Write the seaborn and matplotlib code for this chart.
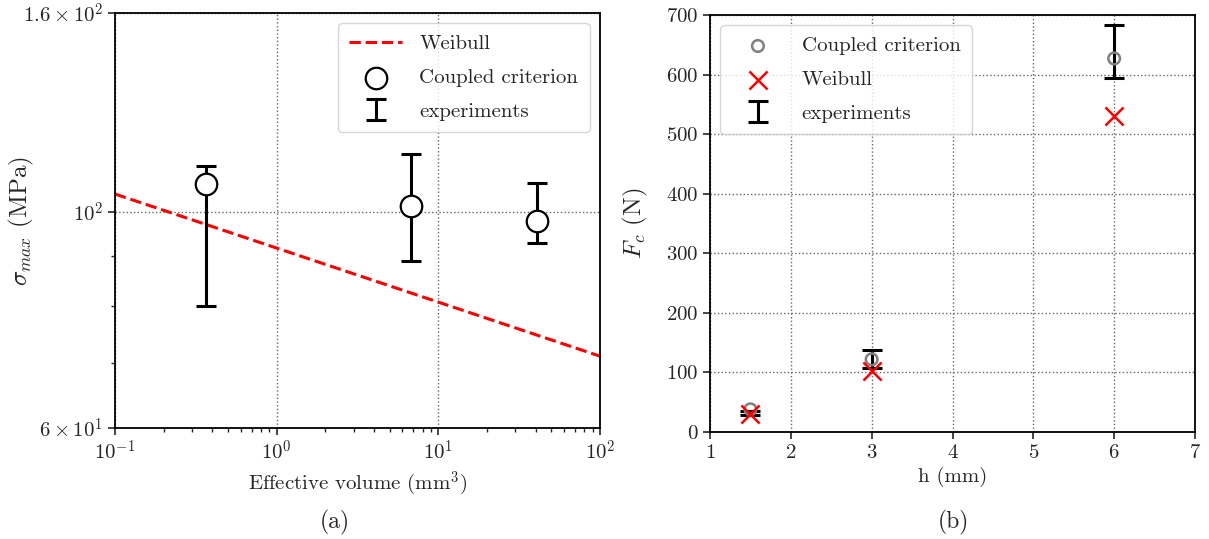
import numpy as np
import pandas as pd
import matplotlib
matplotlib.use("Agg")
import matplotlib.pyplot as plt
import seaborn as sns

# ---------------- data ----------------
# panel (a): strength vs effective volume (log-log)
weibull_v = [0.1, 100.0]
weibull_sigma = [104.3, 71.1]

coupled_v = [0.365, 6.74, 40.6]
coupled_sigma = [106.7, 101.5, 97.9]

exp_v = [0.365, 6.74, 40.6]
exp_sigma_low = [80.1, 89.0, 93.0]
exp_sigma_high = [111.5, 114.7, 107.1]

# panel (b): critical force vs thickness
h_vals = [1.5, 3.0, 6.0]
coupled_F = [38.0, 122.0, 627.0]
weibull_F = [30.0, 103.0, 531.0]
exp_F_low = [28.0, 108.0, 595.0]
exp_F_high = [36.0, 138.0, 684.0]

y_ticks_a = [60, 100, 160]
y_ticklabels_a = [r"$6\times10^{1}$", r"$10^{2}$", r"$1.6\times10^{2}$"]
y_minor_a = [70, 80, 90]
x_ticks_b = [1, 2, 3, 4, 5, 6, 7]
y_ticks_b = [0, 100, 200, 300, 400, 500, 600, 700]

# ---------------- style ----------------
sns.set_style("ticks")
plt.rcParams["font.family"] = ["cmr10", "DejaVu Serif"]
plt.rcParams["mathtext.fontset"] = "cm"
plt.rcParams["axes.formatter.use_mathtext"] = True
plt.rcParams["axes.unicode_minus"] = False
FS = 15

fig = plt.figure(figsize=(12.09, 5.39), dpi=100)
axA = fig.add_axes([115 / 1209, 1 - 428 / 539, 485 / 1209, 415 / 539])
axB = fig.add_axes([710 / 1209, 1 - 432 / 539, 485 / 1209, 417 / 539])

legend_kw = dict(fontsize=FS, frameon=True, fancybox=True, edgecolor="0.8",
                 handlelength=2.5, borderpad=0.55, labelspacing=0.72,
                 handletextpad=0.85)

# ---------------- panel (a) ----------------
dfw = pd.DataFrame({"v": weibull_v, "s": weibull_sigma})
sns.lineplot(data=dfw, x="v", y="s", ax=axA, color="red", linestyle="--",
             linewidth=2.2, label="Weibull")
dfc = pd.DataFrame({"v": coupled_v, "s": coupled_sigma})
sns.scatterplot(data=dfc, x="v", y="s", ax=axA, marker="o", s=240,
                facecolor="white", edgecolor="black", linewidth=1.6,
                label="Coupled criterion", zorder=5)
mid = (np.array(exp_sigma_low) + np.array(exp_sigma_high)) / 2
axA.errorbar(exp_v, mid,
             yerr=[mid - np.array(exp_sigma_low), np.array(exp_sigma_high) - mid],
             fmt="none", ecolor="black", elinewidth=2.2, capsize=7, capthick=2.2,
             label="experiments", zorder=4)
axA.set_xscale("log")
axA.set_yscale("log")
axA.set_xlim(0.1, 100)
axA.set_ylim(60, 160)
axA.set_yticks(y_ticks_a)
axA.set_yticklabels(y_ticklabels_a)
axA.set_yticks(y_minor_a, minor=True)
axA.yaxis.set_minor_formatter(matplotlib.ticker.NullFormatter())
axA.set_xticks([0.1, 1, 10, 100])
axA.set_xticklabels([r"$10^{-1}$", r"$10^{0}$", r"$10^{1}$", r"$10^{2}$"])
axA.grid(True, which="major", linestyle=":", color="0.4", linewidth=1.0)
axA.set_xlabel(r"Effective volume (mm$^3$)", fontsize=FS)
axA.set_ylabel(r"$\sigma_{max}$ (MPa)", fontsize=FS + 3)
axA.yaxis.set_label_coords(-0.163, 0.5)
axA.tick_params(axis="both", which="major", labelsize=FS, length=5, width=1.2)
axA.tick_params(axis="both", which="minor", length=3, width=1.0)
hA, lA = axA.get_legend_handles_labels()
axA.legend(hA, lA, loc="upper right", **legend_kw)

# ---------------- panel (b) ----------------
dfcb = pd.DataFrame({"h": h_vals, "F": coupled_F})
sns.scatterplot(data=dfcb, x="h", y="F", ax=axB, marker="o", s=70,
                facecolor="none", edgecolor="gray", linewidth=1.8,
                label="Coupled criterion", zorder=5)
dfwb = pd.DataFrame({"h": h_vals, "F": weibull_F})
sns.scatterplot(data=dfwb, x="h", y="F", ax=axB, marker="x", s=170,
                color="red", linewidth=1.8, label="Weibull", zorder=6)
midb = (np.array(exp_F_low) + np.array(exp_F_high)) / 2
axB.errorbar(h_vals, midb,
             yerr=[midb - np.array(exp_F_low), np.array(exp_F_high) - midb],
             fmt="none", ecolor="black", elinewidth=2.2, capsize=7, capthick=2.2,
             label="experiments", zorder=4)
axB.set_xlim(1, 7)
axB.set_ylim(0, 700)
axB.set_xticks(x_ticks_b)
axB.set_yticks(y_ticks_b)
axB.grid(True, which="major", linestyle=":", color="0.4", linewidth=1.0)
axB.set_xlabel("h (mm)", fontsize=FS)
axB.set_ylabel(r"$F_c$ (N)", fontsize=FS + 3)
axB.yaxis.set_label_coords(-0.124, 0.5)
axB.tick_params(axis="both", which="major", labelsize=FS, length=5, width=1.2)
hB, lB = axB.get_legend_handles_labels()
axB.legend(hB, lB, loc="upper left", **legend_kw)

for ax in (axA, axB):
    for sp in ax.spines.values():
        sp.set_visible(True)
        sp.set_color("black")
        sp.set_linewidth(1.3)
    ax.set_axisbelow(True)

fig.text(335 / 1209, 1 - 522 / 539, "(a)", ha="center", va="center", fontsize=FS + 2)
fig.text(953 / 1209, 1 - 522 / 539, "(b)", ha="center", va="center", fontsize=FS + 2)

fig.savefig("out.png", dpi=100)
